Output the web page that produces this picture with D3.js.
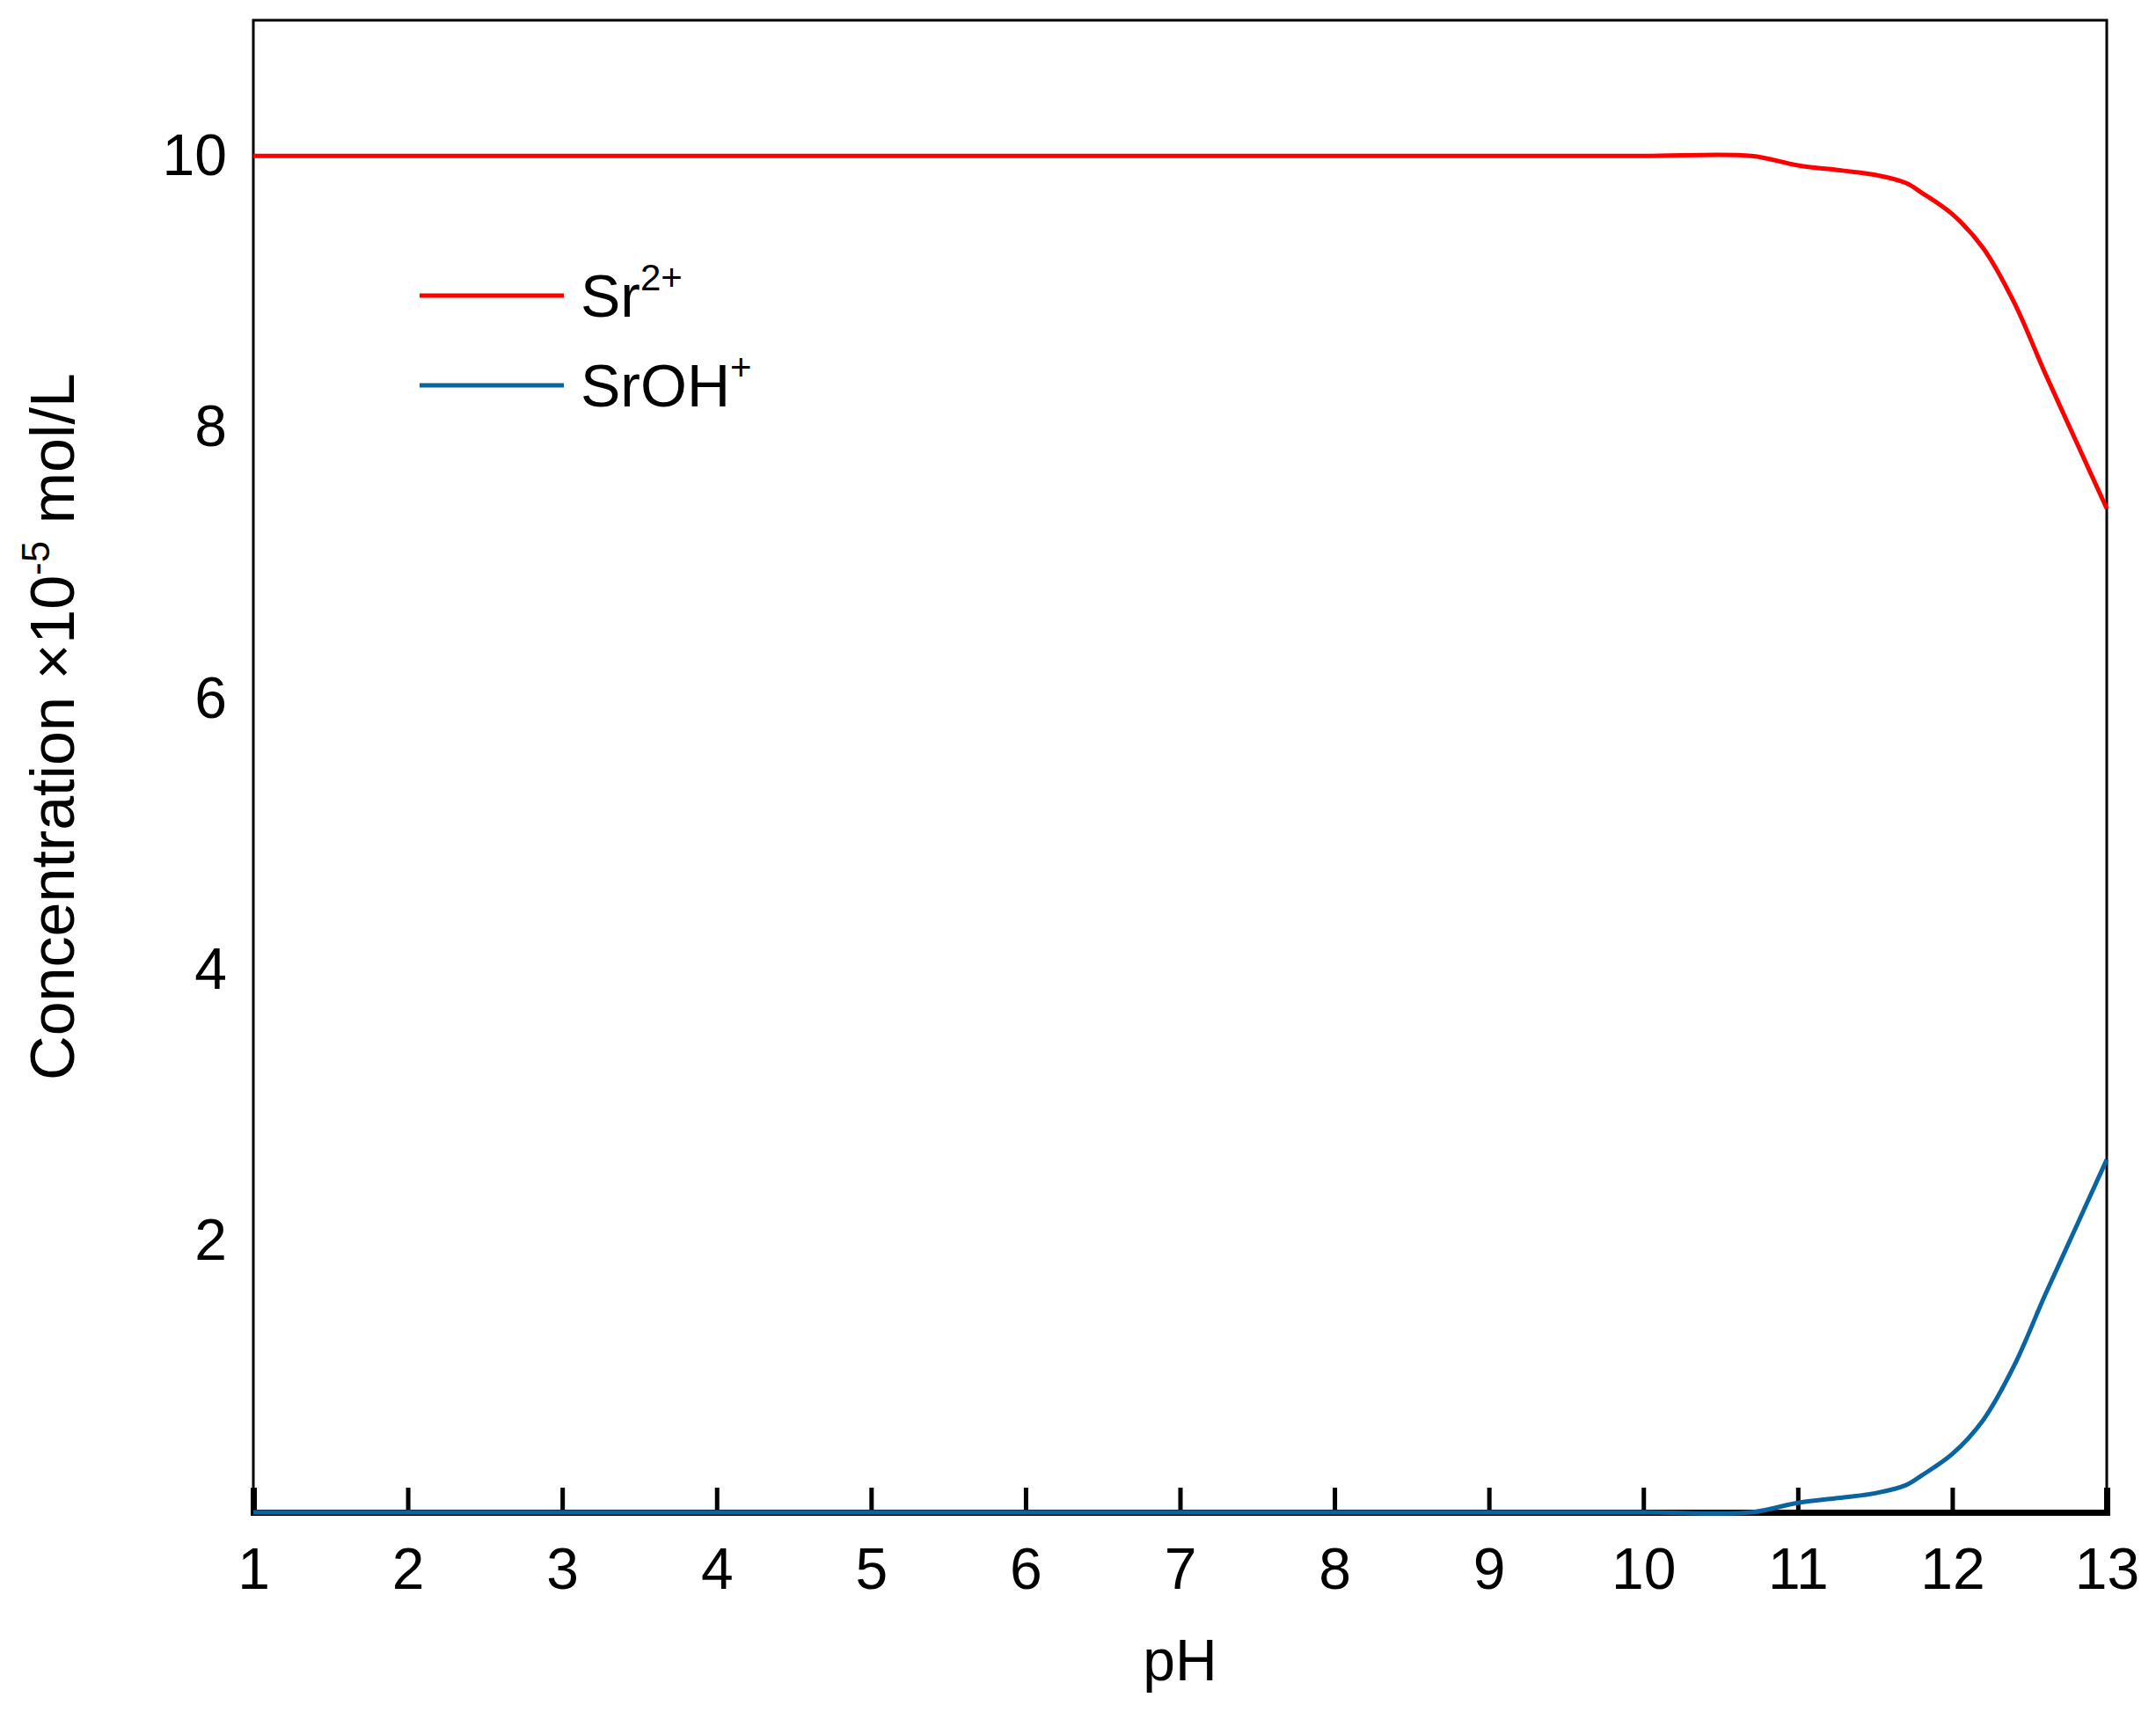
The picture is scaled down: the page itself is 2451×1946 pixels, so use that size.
<!DOCTYPE html><html><head><meta charset="utf-8"><script src="https://cdn.jsdelivr.net/npm/d3@7"></script>
<style>body{margin:0;background:#fff}</style></head><body><script>
const pH =      [1,2,3,4,5,6,7,8,9,10,10.7,11,11.3,11.5,11.7,11.8,12,12.2,12.4,12.6,12.8,13];
const sr2 =     [10,10,10,10,10,10,10,10,10,10,10,9.93,9.89,9.86,9.8,9.73,9.57,9.32,8.92,8.4,7.9,7.4];
const srOH =    [0,0,0,0,0,0,0,0,0,0,0,0.07,0.11,0.14,0.2,0.27,0.43,0.68,1.08,1.6,2.1,2.6];
const xTicks = [1,2,3,4,5,6,7,8,9,10,11,12,13];
const yTicks = [2,4,6,8,10];
const W=2451,H=1946,L=288,R=2395,T=23,B=1719;
const svg=d3.select("body").append("svg").attr("width",W).attr("height",H).style("font-family","'Liberation Sans',Arial");
const x=d3.scaleLinear().domain([1,13]).range([L,R]);
const y=d3.scaleLinear().domain([0,11]).range([B,T]);
svg.append("rect").attr("x",L).attr("y",T).attr("width",R-L).attr("height",B-T).attr("fill","none").attr("stroke","#000").attr("stroke-width",3);
const xa=svg.append("g").attr("transform",`translate(0,${B})`).call(d3.axisBottom(x).tickValues(xTicks).tickSize(-28).tickPadding(40));
xa.select(".domain").attr("stroke-width",7);
xa.selectAll(".tick line").attr("stroke-width",5);
xa.selectAll("text").attr("font-size",66).attr("fill","#000").attr("dy","0.71em");
const ya=svg.append("g").attr("transform",`translate(${L},0)`).call(d3.axisLeft(y).tickValues(yTicks).tickSize(0).tickPadding(30));
ya.select(".domain").remove();
ya.selectAll("text").attr("font-size",66).attr("fill","#000");
const line=d3.line().x(d=>x(d[0])).y(d=>y(d[1])).curve(d3.curveCatmullRom);
svg.append("path").attr("d",line(pH.map((p,i)=>[p,srOH[i]]))).attr("fill","none").attr("stroke","#0a64a0").attr("stroke-width",5);
svg.append("path").attr("d",line(pH.map((p,i)=>[p,sr2[i]]))).attr("fill","none").attr("stroke","#ff0000").attr("stroke-width",5);
svg.append("text").attr("x",(L+R)/2).attr("y",1910).attr("text-anchor","middle").attr("font-size",66).text("pH");
const yl=svg.append("text").attr("transform",`translate(84,${(T+B)/2-45}) rotate(-90)`).attr("text-anchor","middle").attr("font-size",70);
yl.append("tspan").text("Concentration ×10");
yl.append("tspan").attr("font-size",44).attr("dy",-28).text("-5");
yl.append("tspan").attr("dy",28).text(" mol/L");
const leg=[["Sr","2+","#ff0000",336],["SrOH","+","#0a64a0",438]];
leg.forEach(([a,s,c,yy])=>{
 svg.append("line").attr("x1",477).attr("x2",641).attr("y1",yy).attr("y2",yy).attr("stroke",c).attr("stroke-width",5);
 const t=svg.append("text").attr("x",660).attr("y",yy+24).attr("font-size",68);
 t.append("tspan").text(a);
 t.append("tspan").attr("font-size",42).attr("dy",-30).text(s);
});
</script></body></html>
